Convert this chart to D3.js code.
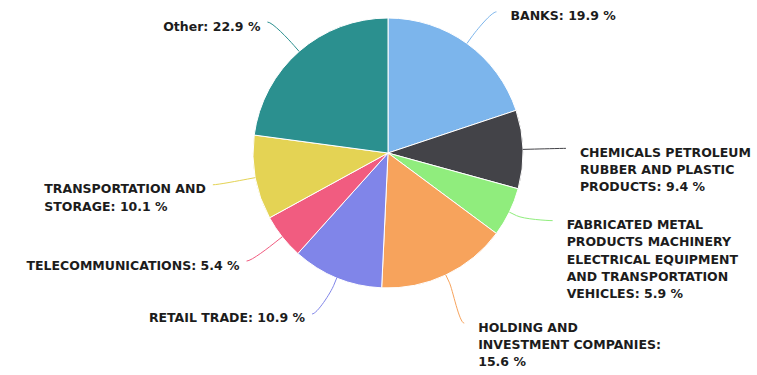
<!DOCTYPE html>
<html>
<head>
<meta charset="utf-8">
<script src="https://cdn.jsdelivr.net/npm/d3@7"></script>
<style>
  html, body { margin: 0; padding: 0; background: #ffffff; }
  svg { display: block; }
  .lbl { font-family: "DejaVu Sans", sans-serif; font-weight: bold; font-size: 12.5px; fill: #1c1c1c; }
</style>
</head>
<body>
<svg id="chart" width="757" height="375"></svg>
<script>
// Sector shares (%) by industry
const categories = [
  "BANKS",
  "CHEMICALS PETROLEUM RUBBER AND PLASTIC PRODUCTS",
  "FABRICATED METAL PRODUCTS MACHINERY ELECTRICAL EQUIPMENT AND TRANSPORTATION VEHICLES",
  "HOLDING AND INVESTMENT COMPANIES",
  "RETAIL TRADE",
  "TELECOMMUNICATIONS",
  "TRANSPORTATION AND STORAGE",
  "Other"
];
const shares = [19.9, 9.4, 5.9, 15.6, 10.9, 5.4, 10.1, 22.9];
const palette = ["#7cb5ec", "#434348", "#90ed7d", "#f7a35c", "#8085e9", "#f15c80", "#e4d354", "#2b908f"];

const W = 757, H = 375;
const cx = 388, cy = 153, radius = 135;
const labelRx = 178, labelRy = 174;   // where the connectors end
const lineH = 17.3, blockGap = 16;
const wrapRight = 188, wrapLeft = 225;

const svg = d3.select("#chart");
const data = categories.map((name, i) => ({ name, value: shares[i], color: palette[i] }));

const pie = d3.pie().sort(null).value(d => d.value).startAngle(0).endAngle(2 * Math.PI);
const arcs = pie(data);
const arc = d3.arc().innerRadius(0).outerRadius(radius);

const g = svg.append("g").attr("transform", `translate(${cx},${cy})`);
g.selectAll("path.slice")
  .data(arcs)
  .join("path")
  .attr("class", "slice")
  .attr("d", arc)
  .attr("fill", d => d.data.color)
  .attr("stroke", "#ffffff")
  .attr("stroke-width", 1)
  .attr("stroke-linejoin", "round");

// text measuring helper
const probe = svg.append("text").attr("class", "lbl").attr("x", -1000).attr("y", -1000);
function measure(s) { probe.text(s); return probe.node().getComputedTextLength(); }
function wrap(s, maxW) {
  const words = s.split(" ");
  const lines = [];
  let cur = "";
  words.forEach(w => {
    const t = cur ? cur + " " + w : w;
    if (cur && measure(t) > maxW) { lines.push(cur); cur = w; }
    else cur = t;
  });
  if (cur) lines.push(cur);
  return lines;
}

// label layout
const labels = arcs.map(a => {
  const mid = (a.startAngle + a.endAngle) / 2;
  const sx = Math.sin(mid), cyDir = -Math.cos(mid);
  const right = sx >= 0;
  const text = `${a.data.name}: ${a.data.value} %`;
  const lines = wrap(text, right ? wrapRight : wrapLeft);
  const width = d3.max(lines, measure);
  return {
    a, sx, cyDir, right, lines, width,
    anchor: cy + labelRy * cyDir,
    h: lines.length * lineH
  };
});
probe.remove();

// push overlapping label blocks apart on one side of the pie
function spread(items) {
  items.sort((p, q) => p.anchor - q.anchor);
  for (let it = 0; it < 100; it++) {
    let moved = false;
    for (let i = 0; i < items.length - 1; i++) {
      const p = items[i], q = items[i + 1];
      const over = (p.anchor + p.h + blockGap) - q.anchor;
      if (over > 0.01) { p.anchor -= over * 0.4; q.anchor += over * 0.6; moved = true; }
    }
    items.forEach(p => {
      if (p.anchor - 4.5 < 2) p.anchor = 6.5;
      if (p.anchor - 4.5 + p.h > H - 2) p.anchor = H - 2 - p.h + 4.5;
    });
    if (!moved) break;
  }
}
spread(labels.filter(l => l.right));
spread(labels.filter(l => !l.right));

const conn = svg.append("g");
const txt = svg.append("g");
labels.forEach(l => {
  const dy = l.anchor - cy;
  const circ = Math.sqrt(Math.max(0, labelRx * labelRx - dy * dy));
  const dx = Math.max(circ, labelRx * Math.abs(l.sx));
  const lx = cx + (l.right ? dx : -dx);
  const ly = l.anchor;
  const tx = cx + radius * l.sx, ty = cy + radius * l.cyDir;
  const bx = cx + (radius + 8) * l.sx, by = cy + (radius + 8) * l.cyDir;
  const path = d3.path();
  path.moveTo(lx, ly);
  path.bezierCurveTo(lx + (l.right ? -5 : 5), ly, 2 * bx - tx, 2 * by - ty, bx, by);
  path.lineTo(tx, ty);
  conn.append("path")
    .attr("d", path.toString())
    .attr("fill", "none")
    .attr("stroke", l.a.data.color)
    .attr("stroke-width", 1);

  // block sits beside the connector end; lines are left-aligned inside it
  const x0 = l.right ? lx + 14 : lx - 7 - l.width;
  const t = txt.append("text")
    .attr("class", "lbl")
    .attr("x", x0)
    .attr("y", ly + 8.5);
  l.lines.forEach((s, i) => {
    t.append("tspan")
      .attr("x", x0)
      .attr("dy", i === 0 ? 0 : lineH)
      .text(s);
  });
});
</script>
</body>
</html>
